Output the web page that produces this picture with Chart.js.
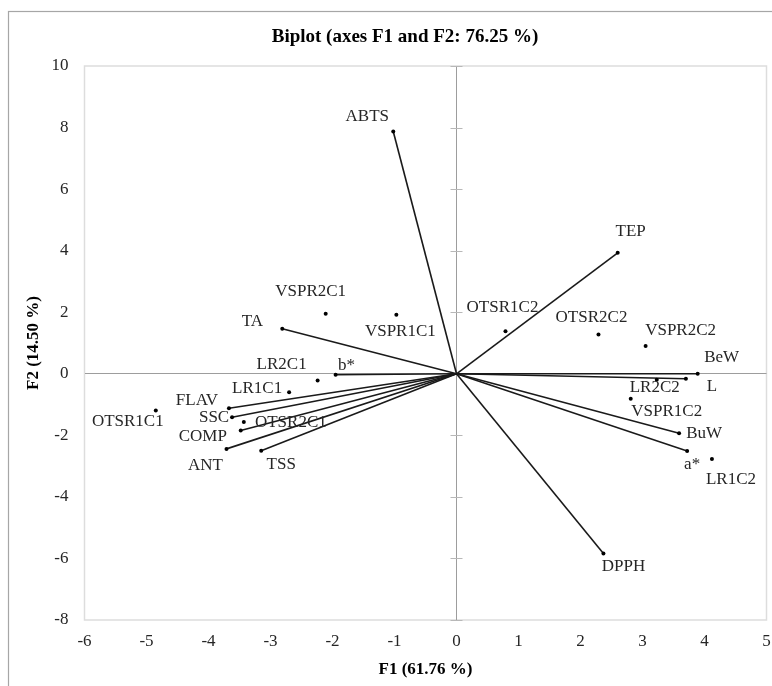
<!DOCTYPE html>
<html>
<head>
<meta charset="utf-8">
<script src="https://cdn.jsdelivr.net/npm/chart.js@4/dist/chart.umd.min.js"></script>
<style>
html,body{margin:0;padding:0;background:#fff;}
#wrap{width:772px;height:686px;position:relative;}
</style>
</head>
<body>
<div id="wrap"><canvas id="c" width="772" height="686"></canvas></div>
<script>
// ---- Data ----
const chartTitle = 'Biplot (axes F1 and F2: 76.25 %)';
const xAxisTitle = 'F1 (61.76 %)';
const yAxisTitle = 'F2 (14.50 %)';

const variableNames = ['ABTS','TEP','TA','b*','FLAV','SSC','COMP','ANT','TSS','BeW','L','BuW','a*','DPPH'];
const variableF1 = [-1.02, 2.60, -2.81, -1.95, -3.67, -3.62, -3.48, -3.71, -3.15, 3.89, 3.70, 3.59, 3.72, 2.37];
const variableF2 = [7.87, 3.93, 1.46, -0.03, -1.12, -1.41, -1.84, -2.44, -2.50, 0.00, -0.16, -1.93, -2.51, -5.84];

const observationNames = ['VSPR2C1','VSPR1C1','LR2C1','LR1C1','OTSR1C1','OTSR2C1','OTSR1C2','OTSR2C2','VSPR2C2','LR2C2','VSPR1C2','LR1C2'];
const observationF1 = [-2.11, -0.97, -2.24, -2.70, -4.85, -3.43, 0.79, 2.29, 3.05, 3.23, 2.81, 4.12];
const observationF2 = [1.95, 1.92, -0.22, -0.60, -1.19, -1.57, 1.38, 1.28, 0.90, -0.19, -0.81, -2.77];

const xTickValues = [-6,-5,-4,-3,-2,-1,0,1,2,3,4,5];
const yTickValues = [-8,-6,-4,-2,0,2,4,6,8,10];

// ---- Label placement (pixel offsets from each point, styling only) ----
const variableLabelOffsets = [[-26,-15],[13,-21],[-30,-7],[11,-9],[-32,-8],[-18,0],[-38,6],[-21,17],[20,14],[24,-16],[26,8],[25,0],[5,14],[20,13]];
const observationLabelOffsets = [[-15,-22],[4,17],[-36,-16],[-32,-4],[-28,11],[47,0],[-3,-24],[-7,-17],[35,-16],[-2,8],[36,13],[19,20]];

const FONT = '"Liberation Serif", "Times New Roman", serif';
const TEXT = '#262626';

const decor = {
  id: 'decor',
  beforeDraw(chart) {
    const {ctx, chartArea: a} = chart;
    ctx.save();
    ctx.fillStyle = '#fff';
    ctx.fillRect(0, 0, chart.width, chart.height);
    ctx.strokeStyle = '#a6a6a6';
    ctx.lineWidth = 1.2;
    ctx.strokeRect(8.5, 11.5, chart.width + 20, chart.height + 20);
    ctx.strokeStyle = '#dddddd';
    ctx.lineWidth = 1.5;
    ctx.strokeRect(a.left, a.top, a.right - a.left, a.bottom - a.top);
    // title
    ctx.fillStyle = '#000';
    ctx.font = 'bold 19px ' + FONT;
    ctx.textAlign = 'center';
    ctx.textBaseline = 'middle';
    ctx.fillText(chartTitle, 405, 37);
    ctx.restore();
  },
  beforeDatasetsDraw(chart) {
    const {ctx, scales: {x, y}} = chart;
    const x0 = x.getPixelForValue(0);
    ctx.save();
    ctx.strokeStyle = '#b8b8b8';
    ctx.lineWidth = 1;
    yTickValues.forEach(v => {
      if (v === 0) return;
      const py = Math.round(y.getPixelForValue(v)) + 0.5;
      ctx.beginPath();
      ctx.moveTo(x0 - 6, py);
      ctx.lineTo(x0 + 6, py);
      ctx.stroke();
    });
    ctx.restore();
  },
  afterDatasetsDraw(chart) {
    const {ctx, scales: {x, y}} = chart;
    ctx.save();
    ctx.fillStyle = TEXT;
    ctx.font = '17px ' + FONT;
    ctx.textAlign = 'center';
    ctx.textBaseline = 'middle';
    variableNames.forEach((n, i) => {
      const px = x.getPixelForValue(variableF1[i]);
      const py = y.getPixelForValue(variableF2[i]);
      const o = variableLabelOffsets[i];
      ctx.fillText(n, px + o[0], py + o[1]);
    });
    observationNames.forEach((n, i) => {
      const px = x.getPixelForValue(observationF1[i]);
      const py = y.getPixelForValue(observationF2[i]);
      const o = observationLabelOffsets[i];
      ctx.fillText(n, px + o[0], py + o[1]);
    });
    ctx.restore();
  }
};

const zeroLine = (c) => (c.tick && c.tick.value === 0) ? '#9d9d9d' : 'rgba(0,0,0,0)';

const datasets = variableNames.map((n, i) => ({
  label: n,
  data: [{x: 0, y: 0}, {x: variableF1[i], y: variableF2[i]}],
  showLine: true,
  borderColor: '#1a1a1a',
  borderWidth: 1.6,
  pointRadius: [0, 2],
  pointBackgroundColor: '#000',
  pointBorderWidth: 0,
  order: 2
}));
datasets.push({
  label: 'Observations',
  data: observationF1.map((v, i) => ({x: v, y: observationF2[i]})),
  showLine: false,
  pointRadius: 2,
  pointBackgroundColor: '#000',
  pointBorderWidth: 0,
  order: 1
});

new Chart(document.getElementById('c'), {
  type: 'scatter',
  data: {datasets},
  options: {
    responsive: false,
    animation: false,
    devicePixelRatio: 1,
    layout: {padding: {left: 0, right: 5.5, top: 66, bottom: 0}},
    plugins: {legend: {display: false}, tooltip: {enabled: false}, title: {display: false}},
    scales: {
      x: {
        type: 'linear', position: 'bottom', min: -6, max: 5,
        afterBuildTicks: s => { s.ticks = xTickValues.map(v => ({value: v})); },
        afterFit: s => { s.height = 66; s.paddingLeft = 0; s.paddingRight = 0; },
        ticks: {font: {family: FONT, size: 17}, color: TEXT, padding: 11, maxRotation: 0, autoSkip: false},
        grid: {color: zeroLine, lineWidth: 1, drawTicks: false},
        border: {display: false},
        title: {display: true, text: xAxisTitle, color: '#000', font: {family: FONT, size: 17, weight: 'bold'}, padding: {top: 0, bottom: 6}}
      },
      y: {
        type: 'linear', position: 'left', min: -8, max: 10,
        afterBuildTicks: s => { s.ticks = yTickValues.map(v => ({value: v})); },
        afterFit: s => { s.width = 84.5; },
        ticks: {font: {family: FONT, size: 17}, color: TEXT, padding: 16, autoSkip: false},
        grid: {color: zeroLine, lineWidth: 1, drawTicks: false},
        border: {display: false},
        title: {display: true, text: yAxisTitle, color: '#000', font: {family: FONT, size: 17, weight: 'bold'}, padding: {top: 23, bottom: 0}}
      }
    }
  },
  plugins: [decor]
});
</script>
</body>
</html>
